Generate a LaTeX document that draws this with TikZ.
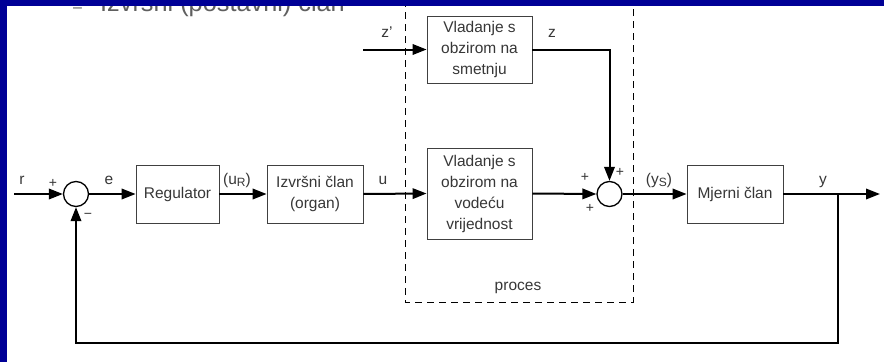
\documentclass[tikz,border=0pt]{standalone}
\usepackage{fontspec}
\setmainfont{Liberation Sans}
\usetikzlibrary{arrows.meta}
\definecolor{slideblue}{RGB}{0,0,150}
\definecolor{txt}{RGB}{55,55,55}
\begin{document}
\begin{tikzpicture}[x=1pt,y=-1pt,
  blk/.style={draw=black!75, line width=0.9pt, text=txt, align=center,
    font=\fontsize{15.5}{21}\selectfont, inner sep=0pt},
  sumc/.style={circle, draw=black, line width=1.3pt, minimum size=25pt, inner sep=0pt},
  sig/.style={line width=2pt, -{Triangle[length=14pt,width=10.5pt]}},
  lbl/.style={text=txt, font=\fontsize{15.5}{18}\selectfont, inner sep=0pt, anchor=base},
  pm/.style={text=txt, font=\fontsize{14}{14}\selectfont, inner sep=0pt},
  procline/.style={line width=0.9pt, dash pattern=on 7pt off 5pt}
]
\useasboundingbox (0,0) rectangle (884,362);
\fill[white] (0,0) rectangle (884,362);

% partially hidden slide text
\node[anchor=base west, inner sep=0pt, text=txt!80, font=\fontsize{16}{16}\selectfont] (bul) at (73,12) {–};
\node[anchor=base west, inner sep=0pt, text=txt!80, font=\fontsize{25.3}{28}\selectfont] (title) at (100,11) {Izvršni (postavni) član};

% process boundary
\draw[procline] (405,0) |- (633,302) -- (633,0);
\node[lbl] (proces) at (518,290) {proces};

% blocks
\node[sumc] (s1) at (76,194) {};
\node[blk, minimum width=83pt, minimum height=58pt] (reg) at (177.5,194) {Regulator};
\node[blk, minimum width=96pt, minimum height=58pt] (izv) at (315,194) {Izvršni član\\(organ)};
\node[blk, minimum width=105pt, minimum height=91pt] (proc) at (479.5,193.5) {Vladanje s\\obzirom na\\vodeću\\vrijednost};
\node[blk, minimum width=105pt, minimum height=67pt] (dist) at (479.5,49.5) {Vladanje s\\obzirom na\\smetnju};
\node[sumc] (s2) at (609.5,194) {};
\node[blk, minimum width=96pt, minimum height=58pt] (mj) at (735,194) {Mjerni član};

\coordinate (rin) at (14,194);
\coordinate (zin) at (363,49.5);
\coordinate (br) at (838,194);
\coordinate (yout) at (880,194);
\coordinate (fb) at (76,343);

% connectors
\draw[sig] (rin) -- (s1.west);
\draw[sig] (s1.east) -- (reg.west);
\draw[sig] (reg.east) -- (izv.west);
\draw[sig] (izv.east) -- (proc.west);
\draw[sig] (proc.east) -- (s2.west);
\draw[sig] (zin) -- (dist.west);
\draw[sig] (dist.east) -| (s2.north);
\draw[sig] (s2.east) -- (mj.west);
\draw[sig] (mj.east) -- (yout);
\draw[sig] (br) |- (fb) -- (s1.south);

% labels
\node[lbl] (lr) at (22,184) {r};
\node[lbl] (le) at (109,184) {e};
\node[lbl] (luR) at (237,184) {(u\raisebox{-0.25ex}{\fontsize{12}{12}\selectfont R})};
\node[lbl] (lu) at (383,184) {u};
\node[lbl] (lz1) at (387,37) {z'};
\node[lbl] (lz) at (552,37) {z};
\node[lbl] (lys) at (659,184) {(y\raisebox{-0.25ex}{\fontsize{12}{12}\selectfont S})};
\node[lbl] (ly) at (823,184) {y};

\node[pm] (p1) at (53,183) {+};
\node[pm] (m1) at (88,216) {−};
\node[pm] (p2) at (585,177) {+};
\node[pm] (p3) at (590,208) {+};
\node[pm] (p4) at (620,172) {+};

% slide background frame
\fill[slideblue] (0,0) rectangle (884,6);
\fill[slideblue] (0,0) rectangle (7,362);
\end{tikzpicture}
\end{document}
